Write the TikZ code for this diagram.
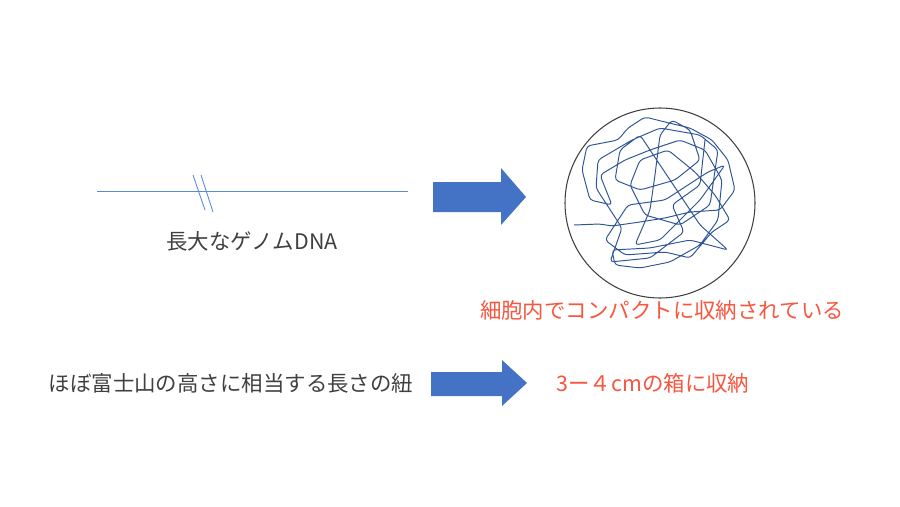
\documentclass[tikz,border=0pt]{standalone}
\usepackage{fontspec}
\setmainfont{Noto Sans CJK JP}
\usetikzlibrary{positioning}
\definecolor{linecol}{HTML}{5B8AD8}
\definecolor{arrowcol}{HTML}{4472C4}
\definecolor{dnacol}{HTML}{2F5597}
\definecolor{redtext}{HTML}{F8563F}
\definecolor{graytext}{HTML}{404040}
\tikzset{
  label/.style={font=\fontsize{12.2}{14}\selectfont, text=graytext, inner sep=0pt},
  redlabel/.style={label, text=redtext},
  blockarrow/.style={fill=arrowcol, draw=none},
}
\begin{document}
\begin{tikzpicture}[x=0.02cm, y=-0.02cm]
  \useasboundingbox[fill=white] (0,0) rectangle (900,507);
  % long genome line with break mark
  \coordinate (lineL) at (97,191);
  \coordinate (lineR) at (408,191);
  \draw[linecol, line width=0.5pt] (lineL) -- (lineR);
  \draw[linecol, line width=0.5pt] (193,175) -- (205,210);
  \draw[linecol, line width=0.5pt] (201,175) -- (213,212);
  \node[label] (genome) at (252,241) {長大なゲノムDNA};
  % block arrows
  \fill[blockarrow] (433,182) -- (501,182) -- (501,168) -- (526,197) -- (501,225) -- (501,212) -- (433,212) -- cycle;
  \fill[blockarrow] (431,372) -- (502,372) -- (502,360) -- (527,383) -- (502,406) -- (502,396) -- (431,396) -- cycle;
  % cell with packed DNA
  \node[circle, draw=black!75, line width=0.6pt, minimum size=190*0.02cm, inner sep=0pt] (cell) at (660,203) {};
  \draw[dnacol, line width=0.55pt, rounded corners=2pt]
    (574,225) -- (600,224) -- (612,226) -- (640,222) -- (665,218) -- (690,212)
    -- (720,210) -- (735,190) -- (728,160) -- (712,140) -- (690,128) -- (665,122)
    -- (645,117) -- (628,128) -- (618,140) -- (587,146) -- (582,170) -- (590,200)
    -- (612,205) -- (600,175) -- (625,160) -- (650,150) -- (680,140) -- (705,150)
    -- (722,180) -- (718,220) -- (700,245) -- (670,262) -- (640,268) -- (615,265)
    -- (612,250) -- (650,248) -- (690,240) -- (728,250) -- (700,225) -- (680,195)
    -- (660,165) -- (640,135) -- (620,150) -- (615,180) -- (640,190) -- (675,180)
    -- (700,160) -- (690,130) -- (672,120) -- (660,135) -- (655,175) -- (650,210)
    -- (635,245) -- (660,240) -- (700,200) -- (725,165) -- (708,172) -- (688,185)
    -- (665,200) -- (628,205) -- (605,240) -- (625,255) -- (665,252) -- (690,258)
    -- (712,232) -- (730,220) -- (715,195) -- (695,172) -- (668,150) -- (640,160)
    -- (630,185) -- (645,215) -- (680,225) -- (710,205) -- (718,150) -- (700,135)
    -- (660,128) -- (632,140) -- (598,160) -- (596,188) -- (622,228) -- (610,262)
    -- (650,258) -- (684,232) -- (672,205) -- (700,185) -- (705,140);
  \node[redlabel] (packed) at (662,310) {細胞内でコンパクトに収納されている};
  % string of Mt. Fuji height
  \node[label] (string) at (231,383) {ほぼ富士山の高さに相当する長さの紐};
  \node[redlabel] (box) at (653,383) {3ー４cmの箱に収納};
\end{tikzpicture}
\end{document}
